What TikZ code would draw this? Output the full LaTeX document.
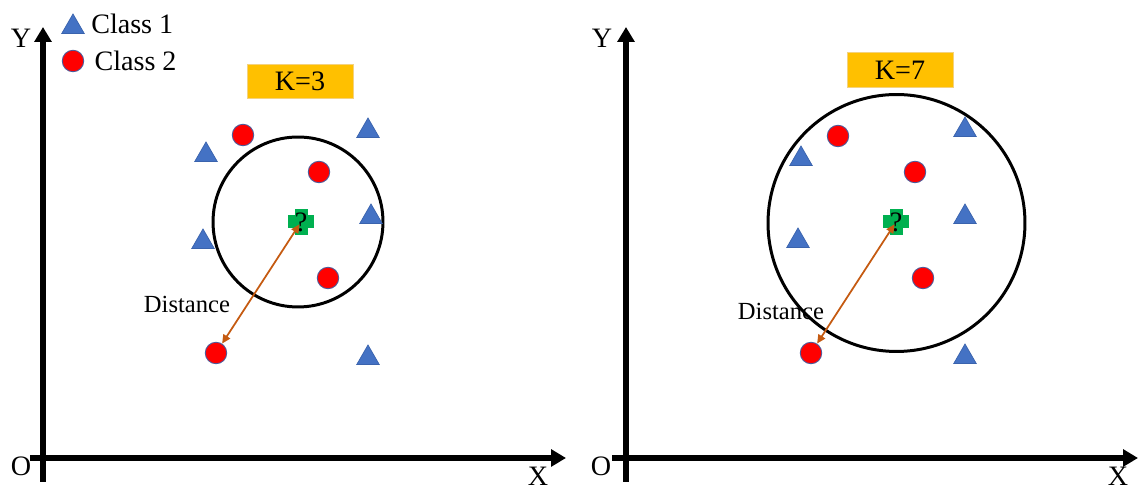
\documentclass[tikz,border=0pt]{standalone}
\usepackage{fontspec}
\setmainfont{Liberation Serif}
\usetikzlibrary{shapes.geometric, arrows.meta, positioning}
\definecolor{triblue}{HTML}{4472C4}
\definecolor{triedge}{HTML}{3A63AD}
\definecolor{dotedge}{HTML}{4A5C9C}
\definecolor{crossgreen}{HTML}{00B050}
\definecolor{kfill}{HTML}{FFC000}
\definecolor{kedge}{HTML}{F4D27E}
\definecolor{distorange}{HTML}{C55A11}

\begin{document}
\begin{tikzpicture}[
    x=0.02cm, y=-0.02cm,
    every node/.style={font=\fontsize{16}{19}\selectfont, inner sep=0pt},
    axisline/.style={line width=2.9pt, -{Triangle[length=8.5pt, width=9.5pt]}},
    tri/.style={regular polygon, regular polygon sides=3, minimum size=0.52cm, fill=triblue, draw=triedge, line width=0.4pt},
    reddot/.style={circle, minimum size=0.43cm, fill=red, draw=dotedge, line width=0.5pt},
    query/.style={minimum size=0.52cm, path picture={
        \fill[crossgreen] ([xshift=-0.13cm]path picture bounding box.north) rectangle ([xshift=0.13cm]path picture bounding box.south);
        \fill[crossgreen] ([yshift=-0.13cm]path picture bounding box.west) rectangle ([yshift=0.13cm]path picture bounding box.east);}},
    ring/.style={circle, draw, line width=1.7pt},
    kbox/.style={fill=kfill, draw=kedge, line width=0.5pt, minimum width=2.12cm, minimum height=0.69cm},
    dist/.style={draw=distorange, line width=1pt, {Triangle[length=5pt, width=4.5pt]}-{Triangle[length=5pt, width=4.5pt]}},
    lbl/.style={font=\fontsize{14}{17}\selectfont}
]
\useasboundingbox (0,0) rectangle (1140,492);
% Left panel: axes
\coordinate (ybotA) at (43,482);
\coordinate (ytopA) at (43,27);
\coordinate (xlftA) at (30,458);
\coordinate (xrgtA) at (566,458);
\draw[axisline] (ybotA) -- (ytopA);
\draw[axisline] (xlftA) -- (xrgtA);
\node (ylabA) at (21,38) {Y};
\node (olabA) at (21,466) {O};
\node (xlabA) at (538,476) {X};
% legend
\node[tri] (legtri) at (73,27) {};
\node[reddot] (legdot) at (73,61) {};
\node[right=0.2cm of legtri, yshift=0.06cm] (legA) {Class 1};
\node[right=0.2cm of legdot] (legB) {Class 2};
% K=3 neighbourhood
\node[kbox] (kA) at (300,81.5) {K=3};
\node[ring, minimum size=3.4cm] (ringA) at (298,222) {};
\node[tri] (tA1) at (206,155) {};
\node[tri] (tA2) at (368,131) {};
\node[tri] (tA3) at (371,217) {};
\node[tri] (tA4) at (203,242) {};
\node[tri] (tA5) at (368,358) {};
\node[reddot] (rA1) at (243,135) {};
\node[reddot] (rA2) at (319,172) {};
\node[reddot] (rA3) at (328,278) {};
\node[reddot] (rA4) at (216,353) {};
\node[query] (qA) at (301,222) {?};
\node[lbl] (dA) at (187,304) {Distance};
\draw[dist, shorten >=1.5pt] (rA4) -- (qA.center);

% Right panel: axes
\coordinate (ybotB) at (626,482);
\coordinate (ytopB) at (626,27);
\coordinate (xlftB) at (612,458);
\coordinate (xrgtB) at (1138,458);
\draw[axisline] (ybotB) -- (ytopB);
\draw[axisline] (xlftB) -- (xrgtB);
\node (ylabB) at (602,38) {Y};
\node (olabB) at (601,466) {O};
\node (xlabB) at (1118,476) {X};
% K=7 neighbourhood
\node[kbox] (kB) at (900,70) {K=7};
\node[ring, minimum size=5.14cm] (ringB) at (896.5,223) {};
\node[tri] (tB1) at (965,130) {};
\node[tri] (tB2) at (801,159) {};
\node[tri] (tB3) at (965,217) {};
\node[tri] (tB4) at (798,241) {};
\node[tri] (tB5) at (965,357) {};
\node[reddot] (rB1) at (838,136) {};
\node[reddot] (rB2) at (915,172) {};
\node[reddot] (rB3) at (923,278) {};
\node[reddot] (rB4) at (811,353) {};
\node[query] (qB) at (896,222) {?};
\node[lbl] (dB) at (781,311) {Distance};
\draw[dist, shorten >=1.5pt] (rB4) -- (qB.center);
\end{tikzpicture}
\end{document}
